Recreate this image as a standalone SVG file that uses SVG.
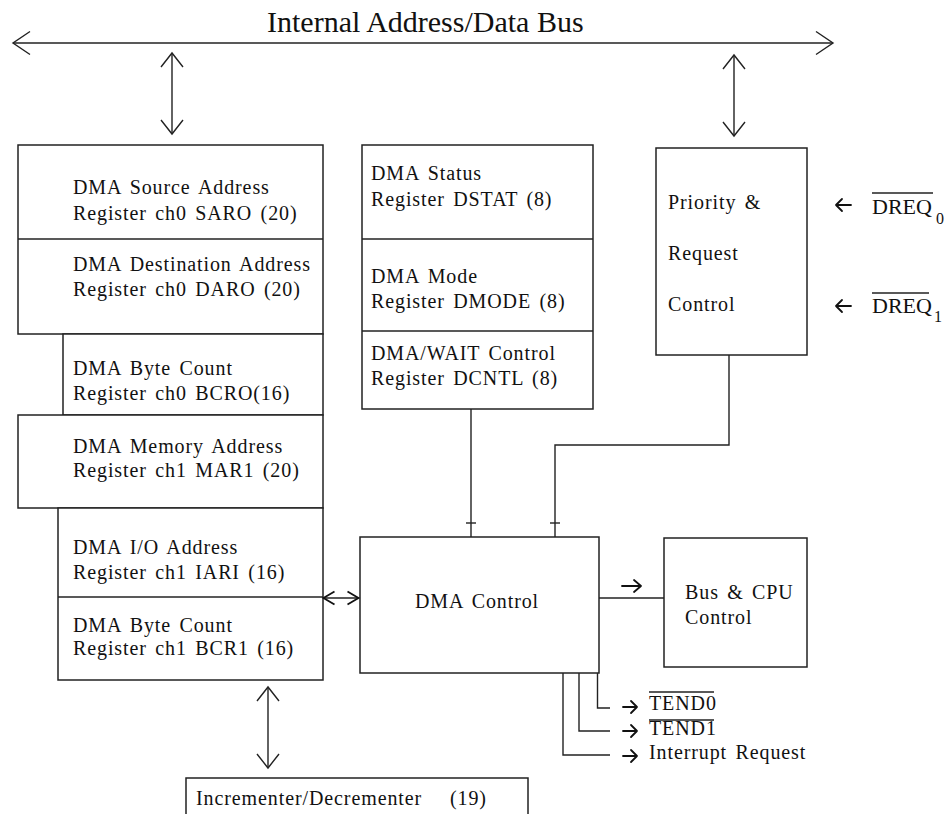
<svg xmlns="http://www.w3.org/2000/svg" width="949" height="814" viewBox="0 0 949 814">
  <style>
    .box { fill: #fff; stroke: #222; stroke-width: 1.5; }
    .ln { fill: none; stroke: #222; stroke-width: 1.4; }
    .glyph { fill: none; stroke: #111; stroke-width: 1.8; stroke-linecap: round; stroke-linejoin: round; }
    text { font-family: "Liberation Serif", "Times New Roman", serif; fill: #111; }
    .lbl { font-size: 20px; letter-spacing: 0.9px; word-spacing: 2.5px; }
    .title { font-size: 30px; }
    .sig { font-size: 22px; }
    .sub { font-size: 16px; }
  </style>
  <defs>
    <marker id="chevBig" viewBox="-19 -13 21 26" refX="0" refY="0" markerWidth="21" markerHeight="26" markerUnits="userSpaceOnUse" orient="auto-start-reverse" overflow="visible">
      <path d="M-17,-11.5 L0,0 L-17,11.5" fill="none" stroke="#222" stroke-width="1.4"/>
    </marker>
    <marker id="chevMid" viewBox="-16 -12 18 24" refX="0" refY="0" markerWidth="18" markerHeight="24" markerUnits="userSpaceOnUse" orient="auto-start-reverse" overflow="visible">
      <path d="M-14,-11 L0,0 L-14,11" fill="none" stroke="#222" stroke-width="1.4"/>
    </marker>
    <marker id="chevSmall" viewBox="-14 -8 16 16" refX="0" refY="0" markerWidth="16" markerHeight="16" markerUnits="userSpaceOnUse" orient="auto-start-reverse" overflow="visible">
      <path d="M-11,-6.5 L0,0 L-11,6.5" fill="none" stroke="#111" stroke-width="1.8"/>
    </marker>
  </defs>

  <!-- internal bus -->
  <g id="bus">
    <text class="title" x="267" y="32">Internal Address/Data Bus</text>
  </g>

  <!-- left register stack -->
  <g id="reg-saro-daro">
    <rect class="box" x="18" y="145" width="305" height="189"/>
    <line class="ln" x1="18" y1="239" x2="323" y2="239"/>
    <text class="lbl" x="73" y="194">DMA Source Address</text>
    <text class="lbl" x="73" y="220">Register ch0 SARO (20)</text>
    <text class="lbl" x="73" y="271">DMA Destination Address</text>
    <text class="lbl" x="73" y="296">Register ch0 DARO (20)</text>
  </g>
  <g id="reg-bcr0">
    <rect class="box" x="63" y="334" width="260" height="81"/>
    <text class="lbl" x="73" y="375">DMA Byte Count</text>
    <text class="lbl" x="73" y="400">Register ch0 BCRO(16)</text>
  </g>
  <g id="reg-mar1">
    <rect class="box" x="18" y="415" width="305" height="93"/>
    <text class="lbl" x="73" y="453">DMA Memory Address</text>
    <text class="lbl" x="73" y="477">Register ch1 MAR1 (20)</text>
  </g>
  <g id="reg-iar1-bcr1">
    <rect class="box" x="58" y="508" width="265" height="172"/>
    <line class="ln" x1="58" y1="597" x2="323" y2="597"/>
    <text class="lbl" x="73" y="554">DMA I/O Address</text>
    <text class="lbl" x="73" y="579">Register ch1 IARI (16)</text>
    <text class="lbl" x="73" y="632">DMA Byte Count</text>
    <text class="lbl" x="73" y="655">Register ch1 BCR1 (16)</text>
  </g>

  <!-- status / mode / control registers -->
  <g id="reg-dstat-dmode-dcntl">
    <rect class="box" x="362" y="145" width="231" height="264"/>
    <line class="ln" x1="362" y1="239" x2="593" y2="239"/>
    <line class="ln" x1="362" y1="331" x2="593" y2="331"/>
    <text class="lbl" x="371" y="180">DMA Status</text>
    <text class="lbl" x="371" y="206">Register DSTAT (8)</text>
    <text class="lbl" x="371" y="283">DMA Mode</text>
    <text class="lbl" x="371" y="308">Register DMODE (8)</text>
    <text class="lbl" x="371" y="360">DMA/WAIT Control</text>
    <text class="lbl" x="371" y="385">Register DCNTL (8)</text>
  </g>

  <!-- priority & request control -->
  <g id="priority">
    <rect class="box" x="656" y="148" width="151" height="207"/>
    <text class="lbl" x="668" y="209">Priority &amp;</text>
    <text class="lbl" x="668" y="260">Request</text>
    <text class="lbl" x="668" y="311">Control</text>
  </g>

  <!-- DREQ inputs -->
  <g id="dreq0">
    <path class="glyph" d="M851,205 H836 M842,199 L836,205 L842,211"/>
    <text class="sig" x="872" y="214">DREQ</text>
    <line class="ln" x1="872" y1="193" x2="933" y2="193" stroke-width="1.3"/>
    <text class="sub" x="936" y="224">0</text>
  </g>
  <g id="dreq1">
    <path class="glyph" d="M851,306 H836 M842,300 L836,306 L842,312"/>
    <text class="sig" x="872" y="313">DREQ</text>
    <line class="ln" x1="872" y1="293" x2="929" y2="293" stroke-width="1.3"/>
    <text class="sub" x="934" y="322">1</text>
  </g>

  <!-- DMA control -->
  <g id="dma-control">
    <rect class="box" x="360" y="537" width="239" height="136"/>
    <text class="lbl" x="415" y="608">DMA Control</text>
  </g>

  <!-- bus & CPU control -->
  <g id="bus-cpu">
    <rect class="box" x="664" y="538" width="143" height="129"/>
    <text class="lbl" x="685" y="599">Bus &amp; CPU</text>
    <text class="lbl" x="685" y="624">Control</text>
  </g>

  <!-- incrementer / decrementer -->
  <g id="inc-dec">
    <rect class="box" x="186" y="778" width="342" height="45"/>
    <text class="lbl" x="196" y="805">Incrementer/Decrementer<tspan x="450">(19)</tspan></text>
  </g>

  <!-- output signal labels -->
  <g id="outputs">
    <text class="lbl" x="649" y="710">TEND0</text>
    <line class="ln" x1="649" y1="692" x2="714" y2="692" stroke-width="1.2"/>
    <text class="lbl" x="649" y="735">TEND1</text>
    <line class="ln" x1="649" y1="720" x2="714" y2="720" stroke-width="1.2"/>
    <text class="lbl" x="649" y="759">Interrupt Request</text>
  </g>

  <!-- connectors -->
  <g id="connectors">
    <!-- bus line -->
    <line class="ln" x1="13" y1="43" x2="833" y2="43" marker-start="url(#chevBig)" marker-end="url(#chevBig)"/>
    <!-- bus to register stack / priority -->
    <line class="ln" x1="172" y1="53" x2="172" y2="134" marker-start="url(#chevMid)" marker-end="url(#chevMid)"/>
    <line class="ln" x1="734" y1="55" x2="734" y2="136" marker-start="url(#chevMid)" marker-end="url(#chevMid)"/>
    <!-- registers to DMA control -->
    <line class="ln" x1="471" y1="409" x2="471" y2="537"/>
    <line class="ln" x1="466" y1="523" x2="476" y2="523"/>
    <!-- priority to DMA control -->
    <polyline class="ln" points="729,355 729,445 555,445 555,537"/>
    <line class="ln" x1="550" y1="523" x2="560" y2="523"/>
    <!-- register stack <-> DMA control -->
    <line class="ln" x1="323.5" y1="598" x2="358.5" y2="598" marker-start="url(#chevSmall)" marker-end="url(#chevSmall)"/>
    <!-- DMA control to bus & CPU control -->
    <line class="ln" x1="599" y1="598" x2="664" y2="598"/>
    <path class="glyph" d="M622,586 H641 M634,580 L641,586 L634,592"/>
    <!-- register stack <-> incrementer -->
    <line class="ln" x1="268" y1="687" x2="268" y2="768" marker-start="url(#chevMid)" marker-end="url(#chevMid)"/>
    <!-- DMA control outputs -->
    <polyline class="ln" points="597.5,673 597.5,708 610,708"/>
    <polyline class="ln" points="579,673 579,731 610,731"/>
    <polyline class="ln" points="563,673 563,755 610,755"/>
    <path class="glyph" d="M623,707 H637 M631,701 L637,707 L631,713"/>
    <path class="glyph" d="M623,731 H637 M631,725 L637,731 L631,737"/>
    <path class="glyph" d="M623,756 H637 M631,750 L637,756 L631,762"/>
  </g>
</svg>
